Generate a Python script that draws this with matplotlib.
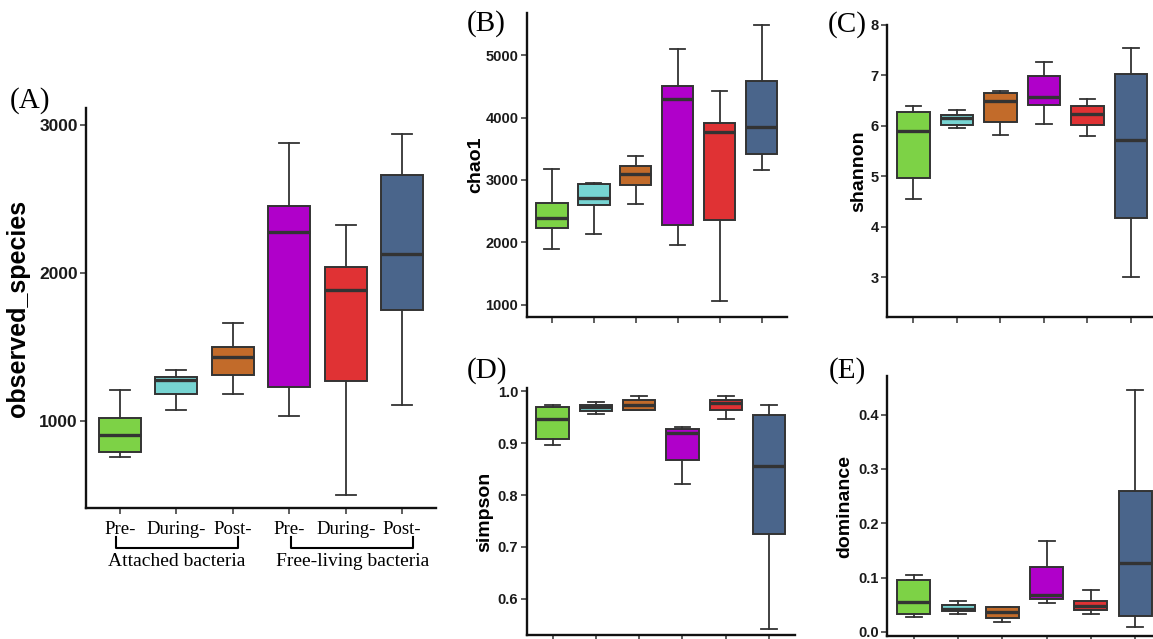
import matplotlib

matplotlib.use("Agg")
import matplotlib.pyplot as plt
from matplotlib.transforms import blended_transform_factory

W, H = 1153, 639

groups = ["Pre-", "During-", "Post-", "Pre-", "During-", "Post-"]
sections = ["Attached bacteria", "Free-living bacteria"]
colors = ["#7dd246", "#77d4d2", "#c26b2a", "#b000ca", "#e03234", "#4a658b"]

# (whisker low, q1, median, q3, whisker high) per group
observed_species = [(757, 790, 903, 1016, 1206), (1070, 1183, 1275, 1296, 1341),
                    (1181, 1309, 1433, 1496, 1659), (1032, 1226, 2278, 2452, 2876),
                    (497, 1269, 1884, 2042, 2326), (1106, 1749, 2128, 2660, 2939)]
chao1 = [(1901, 2227, 2387, 2632, 3176), (2136, 2595, 2717, 2941, 2957),
         (2611, 2920, 3101, 3229, 3379), (1960, 2280, 4291, 4509, 5091),
         (1069, 2360, 3773, 3907, 4424), (3160, 3411, 3843, 4584, 5480)]
shannon = [(4.55, 4.975, 5.906, 6.27, 6.395), (5.95, 6.025, 6.16, 6.21, 6.32),
           (5.83, 6.07, 6.50, 6.65, 6.69), (6.045, 6.415, 6.57, 6.98, 7.27),
           (5.80, 6.02, 6.24, 6.40, 6.54), (3.01, 4.18, 5.72, 7.03, 7.55)]
simpson = [(0.897, 0.908, 0.9465, 0.970, 0.974), (0.9556, 0.963, 0.969, 0.973, 0.980),
           (0.9646, 0.9646, 0.974, 0.984, 0.9916), (0.8216, 0.868, 0.9195, 0.927, 0.932),
           (0.9465, 0.9646, 0.9775, 0.983, 0.991), (0.541, 0.725, 0.8564, 0.954, 0.9736)]
dominance = [(0.0282, 0.0325, 0.0558, 0.0957, 0.105), (0.0331, 0.0393, 0.0417, 0.0497, 0.0577),
             (0.0178, 0.0264, 0.0362, 0.0454, 0.0466), (0.054, 0.0601, 0.0675, 0.1196, 0.1669),
             (0.0331, 0.0405, 0.0479, 0.0577, 0.0773), (0.0086, 0.0294, 0.1276, 0.2595, 0.4454)]

SANS = ["Liberation Sans", "DejaVu Sans"]
SERIF = ["Liberation Serif", "DejaVu Serif"]
EDGE = "#333333"


def axes_at(fig, left, top, right, bottom):
    return fig.add_axes([left / W, 1 - bottom / H, (right - left) / W, (bottom - top) / H])


def boxplot(ax, data, ylim, yticks, ylabel, label_x, tick_size, label_size, ticklabels=None):
    stats = [dict(whislo=d[0], q1=d[1], med=d[2], q3=d[3], whishi=d[4]) for d in data]
    parts = ax.bxp(stats, positions=range(1, len(stats) + 1), widths=0.75, capwidths=0.36,
                   patch_artist=True, showfliers=False, manage_ticks=False,
                   boxprops=dict(edgecolor=EDGE, linewidth=1.4),
                   medianprops=dict(color=EDGE, linewidth=2.4, solid_capstyle="butt"),
                   whiskerprops=dict(color=EDGE, linewidth=1.3),
                   capprops=dict(color=EDGE, linewidth=1.3))
    for patch, c in zip(parts["boxes"], colors):
        patch.set_facecolor(c)
    ax.set_xlim(0.4, len(stats) + 0.6)
    ax.set_ylim(*ylim)
    ax.set_yticks(yticks)
    ax.set_xticks(range(1, len(stats) + 1))
    if ticklabels is None:
        ax.set_xticklabels([])
    else:
        ax.set_xticklabels(ticklabels, fontfamily=SERIF, fontsize=13.5, color="black")
    for lab in ax.get_yticklabels():
        lab.set_fontfamily(SANS)
        lab.set_fontweight("bold")
        lab.set_fontsize(tick_size)
        lab.set_color("#1a1a1a")
    ax.tick_params(direction="out", length=4, width=1.1, color=EDGE, pad=2)
    ax.tick_params(axis="x", pad=5)
    for side in ("top", "right"):
        ax.spines[side].set_visible(False)
    for side in ("left", "bottom"):
        ax.spines[side].set_linewidth(1.7)
        ax.spines[side].set_color("#111111")
    ax.set_ylabel(ylabel, fontfamily=SANS, fontweight="bold", fontsize=label_size)
    ax.yaxis.set_label_coords(label_x, 0.5)


fig = plt.figure(figsize=(W / 100, H / 100), dpi=100)

ax_a = axes_at(fig, 86, 108, 436, 508)
boxplot(ax_a, observed_species, (410, 3115), [1000, 2000, 3000], "observed_species", -0.16, 12.5, 18,
        ticklabels=groups)

ax_b = axes_at(fig, 526.7, 12.7, 786.7, 317.3)
boxplot(ax_b, chao1, (803, 5677), [1000, 2000, 3000, 4000, 5000], "chao1", -0.164, 10.5, 14)

ax_c = axes_at(fig, 887.3, 25, 1157, 316.7)
boxplot(ax_c, shannon, (2.22, 8.0), [3, 4, 5, 6, 7, 8], "shannon", -0.076, 10.5, 14)

ax_d = axes_at(fig, 526.7, 388.3, 795, 635)
boxplot(ax_d, simpson, (0.530, 1.006), [0.6, 0.7, 0.8, 0.9, 1.0], "simpson", -0.124, 10.5, 14)
ax_d.set_yticklabels(["0.6", "0.7", "0.8", "0.9", "1.0"], fontfamily=SANS, fontweight="bold",
                     fontsize=10.5, color="#1a1a1a")

ax_e = axes_at(fig, 887.3, 376, 1161.7, 636)
boxplot(ax_e, dominance, (-0.0074, 0.471), [0.0, 0.1, 0.2, 0.3, 0.4], "dominance", -0.124, 10.5, 14)
ax_e.set_yticklabels(["0.0", "0.1", "0.2", "0.3", "0.4"], fontfamily=SANS, fontweight="bold",
                     fontsize=10.5, color="#1a1a1a")

# brackets under panel A grouping the sampling periods
trans = blended_transform_factory(ax_a.transData, ax_a.transAxes)
for (x0, x1), name in zip([(0.93, 3.1), (4.03, 6.2)], sections):
    ax_a.plot([x0, x0, x1, x1], [-0.072, -0.10, -0.10, -0.072], color="black", lw=1.5,
              transform=trans, clip_on=False)
    ax_a.text((x0 + x1) / 2, -0.135, name, transform=trans, ha="center", va="center",
              fontfamily=SERIF, fontsize=14)

for letter, (x, y) in zip("ABCDE", [(30, 100.7), (485.8, 23.3), (847.5, 25), (486.7, 370.8), (847.5, 370.7)]):
    fig.text(x / W, 1 - y / H, f"({letter})", ha="center", va="center", fontfamily=SERIF, fontsize=21)

fig.savefig("out.png", dpi=100)
